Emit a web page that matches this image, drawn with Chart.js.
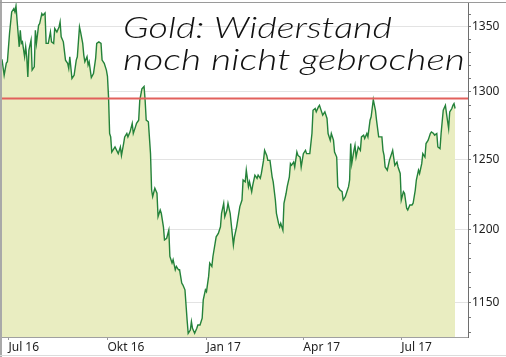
<!DOCTYPE html>
<html>
<head>
<meta charset="utf-8">
<script src="https://cdn.jsdelivr.net/npm/chart.js@4"></script>
<style>
  html, body { margin: 0; padding: 0; background: #fff; }
  canvas { display: block; }
</style>
</head>
<body>
<canvas id="c" width="506" height="357"></canvas>
<script>
// ---- data (gold price, USD/oz) ----
// day offsets counted from 2016-07-01
const baseDate = '2016-07-01';
const days = [
  -6,-4,-2,-1,1,3,5,6,7,8,
  10,11,12,13,15,16,17,18,19,21,
  22,24,25,26,28,29,31,32,34,35,
  37,39,40,42,43,45,47,48,49,51,
  53,55,56,57,59,61,63,64,66,67,
  69,70,71,73,74,75,77,79,81,82,
  84,86,87,89,91,92,93,94,95,96,
  98,99,102,104,105,107,108,110,111,113,
  115,116,118,119,121,122,124,126,127,128,
  130,132,133,134,136,138,139,141,142,144,
  145,147,149,150,152,153,155,156,158,159,
  161,162,164,166,167,169,170,171,173,175,
  176,178,180,181,183,184,186,187,189,190,
  192,193,195,197,198,200,201,203,204,206,
  209,210,212,214,215,217,218,220,221,223,
  224,226,227,229,231,232,234,235,237,238,
  240,241,243,245,246,248,249,251,252,253,
  255,256,258,259,261,262,263,265,266,268,
  269,271,272,274,276,277,280,282,283,285,
  286,288,289,291,292,294,296,297,299,300,
  302,303,305,306,308,310,311,313,314,316,
  317,318,319,321,322,323,325,327,328,330,
  331,333,334,336,337,339,341,342,344,347,
  348,349,350,352,354,355,356,357,359,361,
  362,364,365,367,368,370,371,373,375,376,
  378,379,381,382,384,385,387,388,390,392,
  393,395,396,398,399,401,402,404,406,407,
  409,410,412,413,414,415
];
const prices = [
  1324.8,1312.6,1321.9,1322.9,1345.1,1361.9,1364.5,1361.9,1366.6,1355.3,
  1334.5,1347.4,1337.2,1338.4,1326.8,1334.5,1326.8,1311.3,1332.0,1339.7,
  1316.5,1319.0,1347.4,1337.2,1351.3,1352.7,1360.6,1359.2,1361.1,1337.2,
  1337.2,1346.1,1338.4,1337.2,1348.8,1346.1,1350.0,1354.0,1342.3,1338.4,
  1324.2,1321.7,1317.8,1326.8,1310.1,1312.6,1324.2,1326.8,1350.0,1346.1,
  1337.2,1328.1,1322.9,1326.8,1320.4,1322.9,1310.8,1313.9,1325.5,1337.2,
  1338.4,1337.2,1324.2,1321.7,1316.5,1311.8,1296.0,1268.8,1266.3,1255.2,
  1257.7,1258.9,1254.0,1258.9,1252.7,1261.4,1266.3,1268.8,1266.3,1270.0,
  1276.3,1268.8,1273.7,1276.3,1278.7,1293.5,1302.3,1304.1,1293.5,1278.7,
  1277.5,1254.0,1227.7,1223.0,1229.0,1225.4,1208.8,1213.5,1211.2,1201.7,
  1192.5,1193.7,1199.3,1181.1,1176.6,1178.9,1172.0,1174.3,1172.0,1172.0,
  1163.0,1161.8,1158.4,1138.2,1129.4,1131.6,1137.1,1132.7,1129.4,1132.7,
  1134.9,1134.9,1139.4,1151.6,1158.4,1157.2,1167.5,1176.6,1174.3,1181.1,
  1190.2,1194.7,1197.1,1201.7,1211.2,1218.3,1208.8,1213.5,1218.3,1211.2,
  1189.1,1194.7,1201.7,1211.2,1215.9,1220.6,1234.9,1233.6,1242.0,1230.1,
  1233.6,1226.5,1231.3,1238.4,1236.1,1238.4,1236.1,1239.6,1249.1,1256.4,
  1252.7,1249.1,1249.1,1237.2,1233.6,1220.6,1211.2,1204.1,1201.7,1204.1,
  1199.3,1218.3,1225.4,1230.1,1237.2,1246.7,1245.5,1247.9,1244.3,1255.2,
  1252.7,1251.5,1244.3,1254.0,1256.4,1254.0,1254.0,1268.8,1286.1,1287.4,
  1284.9,1288.6,1289.8,1284.9,1282.4,1284.9,1280.0,1268.8,1263.9,1268.8,
  1263.9,1255.2,1251.5,1230.1,1227.7,1226.5,1220.6,1223.0,1225.4,1230.1,
  1234.9,1261.4,1246.7,1256.4,1260.2,1251.5,1258.9,1256.4,1266.3,1267.6,
  1265.1,1268.8,1266.3,1278.7,1281.2,1294.1,1286.1,1278.7,1266.3,1266.3,
  1256.4,1252.7,1244.3,1242.0,1249.1,1251.5,1254.0,1256.4,1245.5,1247.9,
  1244.3,1239.6,1220.6,1226.5,1225.4,1214.7,1213.5,1217.1,1217.1,1218.3,
  1227.7,1234.9,1242.0,1239.6,1246.7,1254.0,1251.5,1261.4,1263.9,1268.8,
  1270.0,1268.8,1267.6,1268.8,1258.9,1257.7,1268.8,1286.1,1289.8,1283.7,
  1272.5,1284.9,1287.4,1289.8,1291.1,1287.4
];
const resistance = 1295;
const xRange = [-6, 427];              // 2016-06-25 .. 2017-09-01
const tickDays = [0, 92, 184, 274, 365];
const tickLabels = ['Jul 16', 'Okt 16', 'Jan 17', 'Apr 17', 'Jul 17'];
const yRange = [1127, 1369];
const majorTicks = [1150, 1200, 1250, 1300, 1350];
const minorStep = 10;
const noteLines = ['Gold: Widerstand', 'noch nicht gebrochen'];

// ---- styling ----
const GREEN = '#24823a';
const FILL = 'rgb(233,237,193)';
const RED = '#e2605c';
const FONT = { family: "'Noto Sans', 'Open Sans', sans-serif", size: 12 };

const framePlugin = {
  id: 'frame',
  beforeDraw(chart) {
    const c = chart.ctx;
    c.save();
    c.fillStyle = '#fff';
    c.fillRect(0, 0, chart.width, chart.height);
    c.restore();
  },
  afterDraw(chart) {
    const c = chart.ctx;
    c.save();
    c.fillStyle = '#a9a9a9';
    c.fillRect(0, 0, 2, chart.height);
    c.fillStyle = '#9a9a9a';
    c.fillRect(0, 2, chart.width, 1);
    c.fillStyle = '#dcdcdc';
    c.fillRect(0, 355, chart.width, 1);
    c.restore();
  }
};

const notePlugin = {
  id: 'note',
  afterDraw(chart) {
    const c = chart.ctx;
    const xs = [123, 123], ys = [38, 70], ws = [269, 342];
    c.save();
    c.fillStyle = '#111';
    c.font = "italic 300 30px Lato, 'DejaVu Sans', sans-serif";
    c.textBaseline = 'alphabetic';
    noteLines.forEach((line, i) => {
      const w = c.measureText(line).width;
      c.save();
      c.translate(xs[i], ys[i]);
      c.scale(ws[i] / w, 1);
      c.fillText(line, 0, 0);
      c.restore();
    });
    c.restore();
  }
};

new Chart(document.getElementById('c'), {
  type: 'line',
  data: {
    datasets: [
      {
        data: [{ x: xRange[0], y: resistance }, { x: xRange[1], y: resistance }],
        borderColor: RED, borderWidth: 2, pointRadius: 0, fill: false, order: 1
      },
      {
        data: days.map((d, i) => ({ x: d, y: prices[i] })),
        borderColor: GREEN, borderWidth: 1.4, backgroundColor: FILL,
        fill: 'start', pointRadius: 0, tension: 0, order: 2
      }
    ]
  },
  options: {
    responsive: false,
    animation: false,
    events: [],
    layout: { padding: { left: 2, top: 3, right: 0, bottom: 0 } },
    plugins: { legend: { display: false }, tooltip: { enabled: false }, title: { display: false } },
    scales: {
      x: {
        type: 'linear',
        min: xRange[0], max: xRange[1],
        afterBuildTicks: s => { s.ticks = tickDays.map(v => ({ value: v })); },
        afterFit: s => { s.height = 20; s.paddingLeft = 0; s.paddingRight = 0; },
        ticks: {
          align: 'start', maxRotation: 0, minRotation: 0, autoSkip: false, padding: 0,
          color: '#222', font: FONT,
          callback: (v, i) => tickLabels[i]
        },
        grid: { drawOnChartArea: false, drawTicks: true, tickLength: 3, tickColor: '#999' },
        border: { color: '#a0a0a0', width: 1 }
      },
      y: {
        type: 'logarithmic',
        position: 'right',
        min: yRange[0], max: yRange[1],
        afterBuildTicks: s => {
          const t = [];
          for (let v = Math.ceil(yRange[0] / minorStep) * minorStep; v <= yRange[1]; v += minorStep) t.push({ value: v });
          s.ticks = t;
        },
        afterFit: s => { s.width = 38; s.paddingTop = 0; s.paddingBottom = 0; },
        ticks: {
          autoSkip: false, padding: 1, color: '#222', font: FONT,
          callback: v => majorTicks.includes(v) ? String(v) : ''
        },
        grid: {
          drawOnChartArea: true, drawTicks: true, tickLength: 3,
          color: c => (c.tick && majorTicks.includes(c.tick.value)) ? '#e3e3e3' : 'rgba(0,0,0,0)',
          tickColor: '#777', lineWidth: 1
        },
        border: { color: '#6e6e6e', width: 1 }
      }
    }
  },
  plugins: [framePlugin, notePlugin]
});
</script>
</body>
</html>
